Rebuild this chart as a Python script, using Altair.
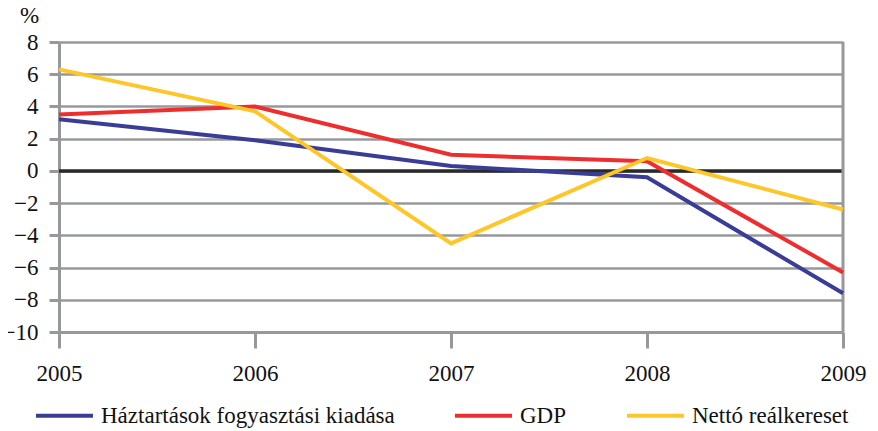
import altair as alt
import pandas as pd

years = [2005, 2006, 2007, 2008, 2009]
series_names = ["Háztartások fogyasztási kiadása", "GDP", "Nettó reálkereset"]
haztartas = [3.2, 1.9, 0.3, -0.4, -7.6]
gdp = [3.5, 4.0, 1.0, 0.6, -6.3]
netto = [6.3, 3.7, -4.5, 0.8, -2.4]
colors = ["#3a3d96", "#ee2e2e", "#ffc629"]
y_ticks = [-10, -8, -6, -4, -2, 0, 2, 4, 6, 8]

rows = []
for name, vals in zip(series_names, [haztartas, gdp, netto]):
    for yr, v in zip(years, vals):
        rows.append({"year": yr, "value": v, "series": name})
df = pd.DataFrame(rows)

FONT = "Liberation Serif"
GRAY = "#97989b"

x_scale = alt.Scale(domain=[2005, 2009], nice=False, zero=False)
y_scale = alt.Scale(domain=[-10, 8], nice=False)

x_axis = alt.Axis(values=years, format="d", title=None, grid=False, labelOverlap=False,
                  labelFlush=False,
                  domainColor=GRAY, domainWidth=3, tickColor=GRAY, tickWidth=3,
                  tickSize=16, labelPadding=14, labelFont=FONT, labelFontSize=23,
                  labelColor="#111111")
y_axis = alt.Axis(values=y_ticks, title="%", titleAngle=0, titleX=-30, titleY=-27,
                  titleAlign="center", titleBaseline="middle", titleFont=FONT,
                  titleFontSize=23, titleFontWeight="normal", titleColor="#111111",
                  grid=True, gridColor=GRAY, gridWidth=2.5, labelOverlap=False,
                  labelFlush=False,
                  domainColor=GRAY, domainWidth=3, tickColor=GRAY, tickWidth=3,
                  tickSize=10, labelPadding=11, labelFont=FONT, labelFontSize=23,
                  labelColor="#111111")

lines = alt.Chart(df).mark_line(strokeWidth=4).encode(
    x=alt.X("year:Q", scale=x_scale, axis=x_axis),
    y=alt.Y("value:Q", scale=y_scale, axis=y_axis),
    color=alt.Color("series:N",
                    scale=alt.Scale(domain=series_names, range=colors),
                    sort=series_names,
                    legend=alt.Legend(title=None, orient="none", direction="horizontal",
                                      legendX=-25, legendY=343,
                                      symbolType="stroke", symbolSize=3249,
                                      symbolStrokeWidth=4, labelFont=FONT, labelFontSize=23,
                                      labelColor="#111111", labelOffset=6, columnPadding=52,
                                      labelLimit=400, symbolOpacity=1)),
)

zero = alt.Chart(pd.DataFrame({"v": [0]})).mark_rule(color="#2a2a2a", strokeWidth=3.5).encode(
    y=alt.Y("v:Q", scale=y_scale, axis=y_axis)
)

right = alt.Chart(pd.DataFrame({"x": [2009]})).mark_rule(color=GRAY, strokeWidth=3).encode(
    x=alt.X("x:Q", scale=x_scale, axis=x_axis)
)

chart = alt.layer(zero, right, lines).properties(
    width=784, height=290,
    autosize=alt.AutoSizeParams(type="none"),
    padding={"left": 51, "top": 34, "right": 27, "bottom": 99},
).configure_view(stroke=None).configure(background="white", font=FONT).configure_axis(
    labelFont=FONT, titleFont=FONT, labelFontSize=23, titleFontSize=23
).configure_legend(labelFont=FONT)

chart.save("out.html", embed_options={"renderer": "svg", "actions": False})
